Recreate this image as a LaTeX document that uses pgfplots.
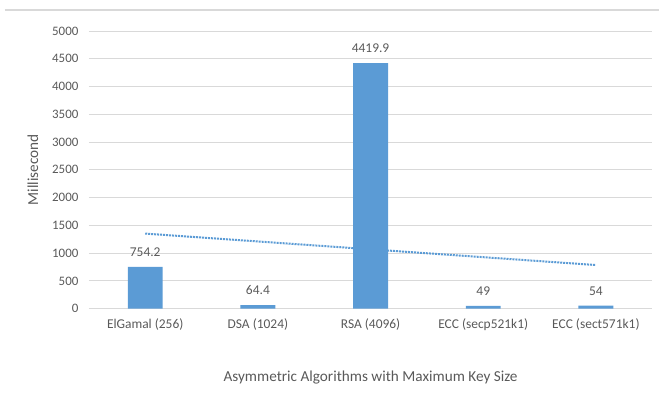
\documentclass[border=0pt]{standalone}
\usepackage{pgfplots}
\pgfplotsset{compat=1.18}
\usepackage{fontspec}
\setmainfont{Carlito}
\definecolor{barblue}{HTML}{5B9BD5}
\definecolor{gridgray}{HTML}{D9D9D9}
\definecolor{txtgray}{HTML}{595959}
\begin{document}
\begin{tikzpicture}[x=1bp,y=1bp]
\fontsize{13}{15}\selectfont
\path (-89bp,-85bp) rectangle (571bp,309bp);
\draw[gridgray, line width=1.5bp] (-84bp,299bp) -- (571bp,299bp);
\begin{axis}[
  scale only axis,
  width=564bp, height=278bp,
  xmin=-0.5, xmax=4.5,
  ymin=0, ymax=5000,
  ytick={0,500,...,5000},
  xtick={0,1,2,3,4},
  xticklabels={ElGamal (256),DSA (1024),RSA (4096),ECC (secp521k1),ECC (sect571k1)},
  axis line style={draw=none},
  major tick length=0pt,
  ymajorgrids,
  grid style={gridgray, line width=0.9bp},
  tick label style={txtgray, font=\fontsize{13}{15}\selectfont},
  /pgf/number format/assume math mode=true,
  scaled y ticks=false,
  yticklabel style={/pgf/number format/1000 sep={}, xshift=-6bp},
  xticklabel style={yshift=-6bp, font=\fontsize{13.5}{15}\selectfont},
  xlabel={Asymmetric Algorithms with Maximum Key Size},
  ylabel={Millisecond},
  label style={txtgray, font=\fontsize{15.3}{18}\selectfont},
  xlabel style={at={(axis description cs:0.5,-0.248)}, anchor=center},
  ylabel style={at={(axis description cs:-0.0993,0.5)}, anchor=center},
  clip=false,
]
\addplot[ybar, bar width=35bp, fill=barblue, draw=none,
  nodes near coords,
  every node near coord/.style={txtgray, font=\fontsize{13.5}{15}\selectfont, yshift=6bp},
  point meta=explicit symbolic]
  coordinates {(0,754.2)[754.2] (1,64.4)[64.4] (2,4419.9)[4419.9] (3,49)[49] (4,54)[54]};
\addplot[barblue, densely dotted, line width=2bp] coordinates {(0,1351.5) (4,785.1)};
\end{axis}
\end{tikzpicture}
\end{document}
